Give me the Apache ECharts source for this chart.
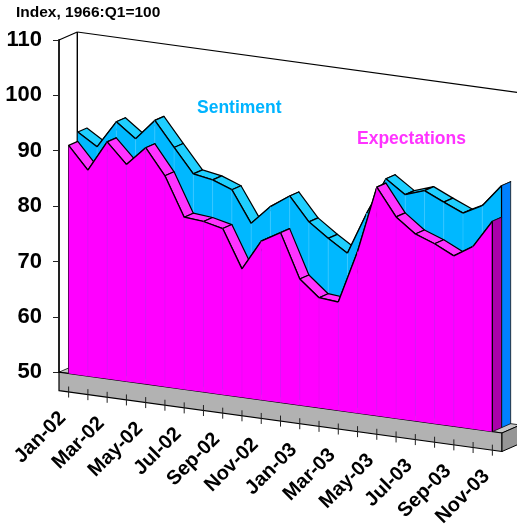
<!DOCTYPE html>
<html>
<head>
<meta charset="utf-8">
<style>html,body{margin:0;padding:0;background:#fff}#chart{width:517px;height:531px}</style>
<script src="https://cdn.jsdelivr.net/npm/echarts@6/dist/echarts.min.js"></script>
</head>
<body>
<div id="chart"></div>
<script>
// Monthly consumer indexes, Jan-02 to Nov-03
const months = ['Jan-02','Feb-02','Mar-02','Apr-02','May-02','Jun-02','Jul-02','Aug-02','Sep-02','Oct-02','Nov-02','Dec-02',
                'Jan-03','Feb-03','Mar-03','Apr-03','May-03','Jun-03','Jul-03','Aug-03','Sep-03','Oct-03','Nov-03'];
const sentiment = [92.9,90.7,95.7,93.1,96.9,92.5,88.2,87.6,86.3,80.7,84.2,86.6,
                   82.4,79.9,77.7,85.4,92.1,89.7,90.9,89.3,87.8,89.6,93.7];
const expectations = [91.2,87.2,92.8,89.2,92.7,88.1,81.1,80.8,80.0,73.2,78.7,80.7,
                      72.8,69.9,69.6,79.2,91.3,86.4,83.8,82.5,80.8,83.0,88.0];
const yTicks = {min: 50, max: 110, step: 10};

// Oblique projection of the flat plot area
const GRID = {left: 59, right: 502, top: 40, bottom: 372.2};
const SHEAR = 0.1372;            // floor falls this far per pixel to the right
const DEPTH = [9.15, -4];        // screen offset of one row of depth
const SLAB = 18.5;               // thickness of the floor slab
const FONT = '"Liberation Sans", Arial, sans-serif';

function oblique(x, y, depth) {
  return [x + depth * DEPTH[0], y + (x - GRID.left) * SHEAR + depth * DEPTH[1]];
}
function project(api, i, v, depth) {
  const c = api.coord([i, v]);
  return oblique(c[0], c[1], depth);
}
function poly(points, fill, stroke, width) {
  return {type: 'polygon', shape: {points},
          style: {fill, stroke: stroke || null, lineWidth: width || 0, lineJoin: 'round'}};
}
function line(a, b, stroke, width) {
  return {type: 'line', shape: {x1: a[0], y1: a[1], x2: b[0], y2: b[1]},
          style: {stroke, lineWidth: width || 1}};
}

// One row of the area: runs left to right so that each face hides the depth strip behind it
function areaRow(values, depth, colors) {
  return function (params, api) {
    const i = params.dataIndex, v = values[i], kids = [];
    const front = project(api, i, v, depth);
    const base = project(api, i, yTicks.min, depth);
    if (i === 0) kids.push(line(front, base, '#000', 1.2));
    if (i < values.length - 1) {
      const nextFront = project(api, i + 1, values[i + 1], depth);
      const nextBase = project(api, i + 1, yTicks.min, depth);
      kids.push(poly([front, nextFront, project(api, i + 1, values[i + 1], depth + 1), project(api, i, v, depth + 1)],
                     colors.strip, '#000', 1.2));
      kids.push(poly([front, nextFront, nextBase, base], colors.face));
      if (i > 0) kids.push(line(front, base, colors.seam, 0.7));
      kids.push(line(front, nextFront, '#000', 1.3));
    } else {
      const backTop = project(api, i, v, depth + 1);
      const backBase = project(api, i, yTicks.min, depth + 1);
      kids.push(poly([front, backTop, backBase, base], colors.side, '#111', 0.8));
      kids.push(line(front, base, '#000', 1.2));
    }
    return {type: 'group', children: kids};
  };
}

// Walls and floor slab
function frame(params, api) {
  const L = GRID.left, R = GRID.right, B = GRID.bottom, T = GRID.top;
  const fl = oblique(L, B, 0), fr = oblique(R, B, 0), bl = oblique(L, B, 2), br = oblique(R, B, 2);
  const lo = p => [p[0], p[1] + SLAB];
  return {type: 'group', children: [
    poly([fl, bl, br, fr], '#C6C6C6', '#000', 0.8),
    poly([fl, fr, lo(fr), lo(fl)], '#B2B2B2', '#000', 1.2),
    poly([fr, br, lo(br), lo(fr)], '#969696', '#000', 1),
    line(oblique(L, T, 0), oblique(L, T, 2), '#000', 1.2),
    line(oblique(L, T, 2), oblique(R, T, 2), '#000', 1.2),
    line(oblique(L, T, 2), bl, '#000', 1.4)
  ]};
}

// Category ticks and slanted labels along the lower front edge of the slab
function tickMarks(params, api) {
  const i = params.dataIndex;
  const c = api.coord([i, yTicks.min]);
  const edge = oblique(c[0], c[1] + SLAB, 0);
  const kids = [line([edge[0], edge[1] - 5.5], [edge[0], edge[1] + 5.5], '#222', 1)];
  if (i % 2 === 0) {
    kids.push({type: 'text', x: edge[0] - 6, y: edge[1] + 23, rotation: Math.PI / 4,
      style: {text: months[i], fill: '#000', font: 'bold 20px ' + FONT, textAlign: 'right', textVerticalAlign: 'middle'}});
  }
  return {type: 'group', children: kids};
}

const rows = values => values.map((v, i) => [months[i], v]);
const chart = echarts.init(document.getElementById('chart'), null, {renderer: 'canvas'});
chart.setOption({
  animation: false,
  backgroundColor: '#fff',
  title: {text: 'Index, 1966:Q1=100', left: 16, top: 5, padding: 0,
          textStyle: {fontFamily: FONT, fontSize: 15.5, fontWeight: 'bold', color: '#000'}},
  grid: {left: GRID.left, top: GRID.top, width: GRID.right - GRID.left, height: GRID.bottom - GRID.top},
  xAxis: {type: 'category', data: months, boundaryGap: true, show: false},
  yAxis: {type: 'value', min: yTicks.min, max: yTicks.max, interval: yTicks.step,
    splitLine: {show: false},
    axisLine: {show: true, lineStyle: {color: '#222', width: 2}},
    axisTick: {show: true, length: 6, lineStyle: {color: '#222', width: 1}},
    axisLabel: {margin: 17, padding: [2, 0, 0, 0], color: '#000', fontFamily: FONT, fontSize: 22, fontWeight: 'bold'}},
  graphic: [
    {type: 'text', left: 197, top: 99, z: 10,
     style: {text: 'Sentiment', fill: '#00B4FF', font: 'bold 17.5px ' + FONT}},
    {type: 'text', left: 357, top: 130, z: 10,
     style: {text: 'Expectations', fill: '#FF33FF', font: 'bold 17.5px ' + FONT}}
  ],
  series: [
    {type: 'custom', z: 1, clip: false, silent: true, data: [[months[0], yTicks.min]], renderItem: frame},
    {type: 'custom', z: 2, clip: false, silent: true, name: 'Sentiment', data: rows(sentiment),
     renderItem: areaRow(sentiment, 1, {face: '#00B8FF', strip: '#1FCFFF', seam: '#33C6FF', side: '#0080FF'})},
    {type: 'custom', z: 3, clip: false, silent: true, name: 'Expectations', data: rows(expectations),
     renderItem: areaRow(expectations, 0, {face: '#FF00FF', strip: '#FF33FF', seam: '#E60AF0', side: '#AA00AA'})},
    {type: 'custom', z: 4, clip: false, silent: true, data: rows(expectations), renderItem: tickMarks}
  ]
});
</script>
</body>
</html>
